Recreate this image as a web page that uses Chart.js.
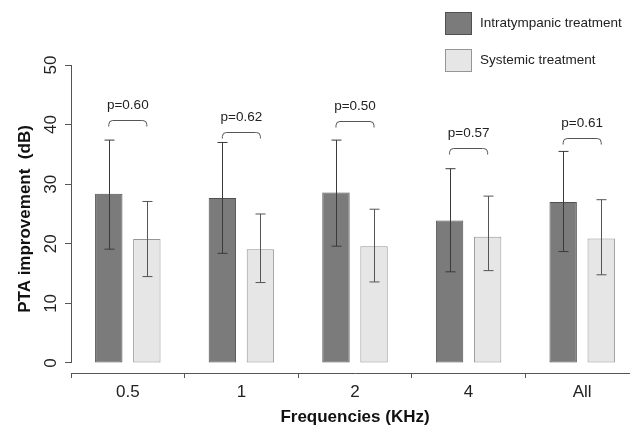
<!DOCTYPE html>
<html>
<head>
<meta charset="utf-8">
<script src="https://cdn.jsdelivr.net/npm/chart.js@4"></script>
<style>
  html, body { margin: 0; padding: 0; background: #fff; overflow: hidden; }
  #wrap { position: relative; width: 640px; height: 430px; }
  .legend-item { position: absolute; left: 445px; font: 13.5px "Liberation Sans", Arial, sans-serif; color: #222; }
  .legend-item span.box { position: absolute; left: 0; top: 0; width: 25px; height: 21px; border: 1px solid; }
  .legend-item span.txt { position: absolute; left: 35px; top: 3px; white-space: nowrap; }
</style>
</head>
<body>
<div id="wrap">
  <canvas id="ptaChart" width="640" height="430"></canvas>
  <div id="legend"></div>
</div>
<script>
// Values (dB)
const frequencies = ['0.5', '1', '2', '4', 'All'];
const seriesNames = ['Intratympanic treatment', 'Systemic treatment'];

const intratympanicMean = [28.4, 27.7, 28.6, 23.9, 27.0];
const intratympanicHigh = [37.4, 37.0, 37.4, 32.6, 35.5];
const intratympanicLow = [19.1, 18.4, 19.6, 15.3, 18.7];

const systemicMean = [20.8, 19.1, 19.6, 21.2, 20.9];
const systemicHigh = [27.1, 25.0, 25.8, 28.0, 27.4];
const systemicLow = [14.5, 13.5, 13.6, 15.5, 14.8];

const pValues = ['p=0.60', 'p=0.62', 'p=0.50', 'p=0.57', 'p=0.61'];
const pBracketLevel = [40.8, 38.8, 40.6, 36.0, 37.8];

const yTicks = [0, 10, 20, 30, 40, 50];

const FONT = '"Liberation Sans", Arial, sans-serif';
const fillColors = ['#7b7b7b', '#e6e6e6'];
const edgeColors = ['#505050', '#959595'];
const whiskerColors = ['#3a3a3a', '#555555'];

// error bars drawn from each bar's x and the y scale
const errorBars = {
  id: 'errorBars',
  afterDatasetsDraw(chart) {
    const ctx = chart.ctx;
    const y = chart.scales.y;
    const highs = [intratympanicHigh, systemicHigh];
    const lows = [intratympanicLow, systemicLow];
    ctx.save();
    ctx.lineWidth = 1;
    chart.data.datasets.forEach((ds, i) => {
      const meta = chart.getDatasetMeta(i);
      ctx.strokeStyle = whiskerColors[i];
      meta.data.forEach((bar, j) => {
        const x = Math.round(bar.x) + 0.5;
        const top = y.getPixelForValue(highs[i][j]);
        const bot = y.getPixelForValue(lows[i][j]);
        ctx.beginPath();
        ctx.moveTo(x, top); ctx.lineTo(x, bot);
        ctx.moveTo(x - 5, top); ctx.lineTo(x + 5, top);
        ctx.moveTo(x - 5, bot); ctx.lineTo(x + 5, bot);
        ctx.stroke();
      });
    });
    ctx.restore();
  }
};

// p-value brackets over each pair
const pBrackets = {
  id: 'pBrackets',
  afterDatasetsDraw(chart) {
    const ctx = chart.ctx;
    const y = chart.scales.y;
    const a = chart.getDatasetMeta(0).data;
    const b = chart.getDatasetMeta(1).data;
    ctx.save();
    ctx.strokeStyle = '#555';
    ctx.lineWidth = 1;
    ctx.fillStyle = '#222';
    ctx.font = '13.5px ' + FONT;
    ctx.textAlign = 'center';
    ctx.textBaseline = 'middle';
    frequencies.forEach((f, j) => {
      const x1 = a[j].x, x2 = b[j].x;
      const yy = Math.round(y.getPixelForValue(pBracketLevel[j])) + 0.5;
      ctx.beginPath();
      ctx.moveTo(x1, yy + 6);
      ctx.arcTo(x1, yy, x1 + 5, yy, 4);
      ctx.lineTo(x2 - 5, yy);
      ctx.arcTo(x2, yy, x2, yy + 6, 4);
      ctx.lineTo(x2, yy + 6);
      ctx.stroke();
      ctx.fillText(pValues[j], (x1 + x2) / 2, yy - 15);
    });
    ctx.restore();
  }
};

// R style y axis line, only from 0 to 50
const yAxisLine = {
  id: 'yAxisLine',
  afterDraw(chart) {
    const y = chart.scales.y;
    const ctx = chart.ctx;
    const x = Math.round(chart.chartArea.left) + 0.5;
    ctx.save();
    ctx.strokeStyle = '#555';
    ctx.lineWidth = 1;
    ctx.beginPath();
    ctx.moveTo(x, y.getPixelForValue(yTicks[0]));
    ctx.lineTo(x, y.getPixelForValue(yTicks[yTicks.length - 1]));
    ctx.stroke();
    ctx.restore();
  }
};

const ctx = document.getElementById('ptaChart').getContext('2d');
const ptaChart = new Chart(ctx, {
  type: 'bar',
  data: {
    labels: frequencies,
    datasets: [{
      label: seriesNames[0],
      data: intratympanicMean,
      backgroundColor: fillColors[0],
      borderColor: edgeColors[0],
      borderWidth: 1,
      borderSkipped: false
    }, {
      label: seriesNames[1],
      data: systemicMean,
      backgroundColor: fillColors[1],
      borderColor: edgeColors[1],
      borderWidth: 1,
      borderSkipped: false
    }]
  },
  options: {
    responsive: false,
    animation: false,
    categoryPercentage: 0.67,
    barPercentage: 0.72,
    layout: { padding: { top: 65, right: 1, left: 0, bottom: 0 } },
    plugins: {
      legend: { display: false },
      tooltip: { enabled: false }
    },
    scales: {
      x: {
        offset: true,
        grid: {
          offset: true,
          drawOnChartArea: false,
          drawTicks: true,
          tickLength: 5,
          color: '#555'
        },
        border: { color: '#555', width: 1 },
        ticks: { color: '#222', padding: 4, font: { family: FONT, size: 17 } },
        title: {
          display: true,
          text: 'Frequencies (KHz)',
          color: '#111',
          font: { family: FONT, size: 17, weight: 'bold' },
          padding: { top: 0, bottom: 2 }
        },
        afterFit(scale) { scale.height = 57; }
      },
      y: {
        min: -1.678,
        max: 50,
        afterBuildTicks(scale) {
          scale.ticks = yTicks.map(v => ({ value: v }));
        },
        grid: {
          drawOnChartArea: false,
          drawTicks: true,
          tickLength: 6,
          color: '#555'
        },
        border: { display: false },
        ticks: {
          color: '#222',
          minRotation: 90,
          maxRotation: 90,
          crossAlign: 'center',
          padding: 4,
          font: { family: FONT, size: 17 }
        },
        title: {
          display: true,
          text: 'PTA improvement  (dB)',
          color: '#111',
          font: { family: FONT, size: 17, weight: 'bold' },
          padding: { top: 15, bottom: 0 }
        },
        afterFit(scale) { scale.width = 71; }
      }
    }
  },
  plugins: [errorBars, pBrackets, yAxisLine]
});

// legend box, stacked in the top-right corner
const legendEl = document.getElementById('legend');
seriesNames.forEach((name, i) => {
  const item = document.createElement('div');
  item.className = 'legend-item';
  item.style.top = (12 + i * 37) + 'px';
  item.innerHTML = '<span class="box" style="background:' + fillColors[i] +
    ';border-color:' + edgeColors[i] + '"></span><span class="txt">' + name + '</span>';
  legendEl.appendChild(item);
});
</script>
</body>
</html>
